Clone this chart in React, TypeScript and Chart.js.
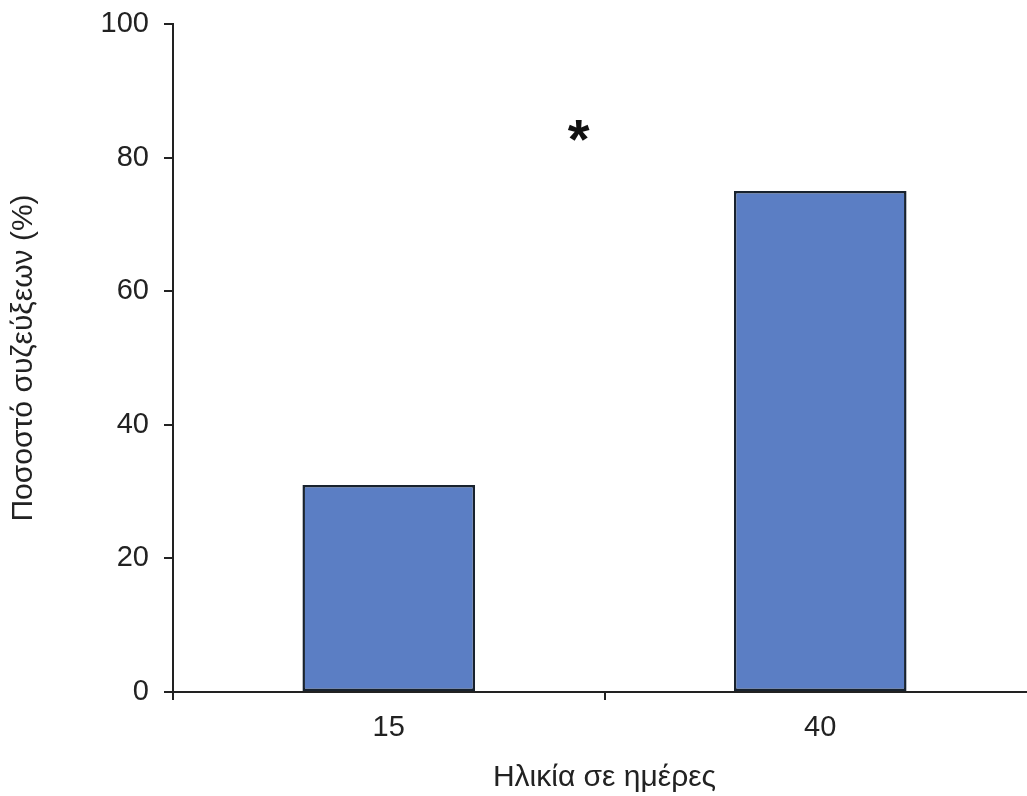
import React, { useEffect, useRef } from "react";
import { Chart, registerables } from "chart.js";

Chart.register(...registerables);

const categories = ["15", "40"];
const values = [31, 75];
const yTicks = [0, 20, 40, 60, 80, 100];
const yTitle = "Ποσοστό συζεύξεων (%)";
const xTitle = "Ηλικία σε ημέρες";
const markText = "*";
const markAt = [0.44, 83.5];

const asteriskPlugin = {
  id: "asterisk",
  afterDatasetsDraw(chart: any) {
    const { ctx, scales } = chart;
    const x = scales.x.getPixelForValue(markAt[0]);
    const y = scales.y.getPixelForValue(markAt[1]);
    ctx.save();
    ctx.fillStyle = "#111";
    ctx.font = "bold 56px 'Liberation Sans', Arial, sans-serif";
    ctx.textAlign = "center";
    ctx.textBaseline = "middle";
    ctx.fillText(markText, x, y + 8);
    ctx.restore();
  },
};

export default function App() {
  const ref = useRef<HTMLCanvasElement | null>(null);
  useEffect(() => {
    if (!ref.current) return;
    const font = "'Liberation Sans', Arial, sans-serif";
    const chart = new Chart(ref.current, {
      type: "bar",
      data: {
        labels: categories,
        datasets: [
          {
            data: values,
            backgroundColor: "rgb(91,126,196)",
            borderColor: "#18222e",
            borderWidth: 2.5,
            borderSkipped: false,
            barPercentage: 0.4,
            categoryPercentage: 1,
          },
        ],
      },
      options: {
        responsive: false,
        animation: false,
        layout: { padding: { top: 24, right: 4, left: 0, bottom: 0 } },
        plugins: { legend: { display: false }, tooltip: { enabled: false } },
        scales: {
          x: {
            offset: true,
            grid: {
              offset: true,
              drawOnChartArea: false,
              drawTicks: true,
              tickLength: 8,
              color: "#222",
              lineWidth: 2,
            },
            border: { display: true, color: "#222", width: 2 },
            ticks: { color: "#222", font: { family: font, size: 29 }, padding: 11 },
            title: {
              display: true,
              text: xTitle,
              color: "#222",
              font: { family: font, size: 30 },
              padding: { top: 8, bottom: 0 },
            },
            afterFit(scale: any) {
              scale.height = 104;
            },
          },
          y: {
            min: 0,
            max: 100,
            afterBuildTicks(scale: any) {
              scale.ticks = yTicks.map((v) => ({ value: v }));
            },
            grid: {
              drawOnChartArea: false,
              drawTicks: true,
              tickLength: 9,
              color: "#222",
              lineWidth: 2,
            },
            border: { display: true, color: "#222", width: 2 },
            ticks: { color: "#222", font: { family: font, size: 29 }, padding: 15 },
            title: {
              display: true,
              text: yTitle,
              color: "#222",
              font: { family: font, size: 30 },
              padding: { top: 6, bottom: 0 },
            },
            afterFit(scale: any) {
              scale.width = 173;
              scale.paddingTop = 0;
              scale.paddingBottom = 0;
            },
          },
        },
      },
      plugins: [asteriskPlugin],
    });
    return () => chart.destroy();
  }, []);
  return (
    <div
      style={{
        position: "fixed",
        left: 0,
        top: 0,
        width: 1027,
        height: 796,
        overflow: "hidden",
        background: "#fff",
      }}
    >
      <canvas ref={ref} width={1040} height={796} style={{ display: "block" }} />
    </div>
  );
}
